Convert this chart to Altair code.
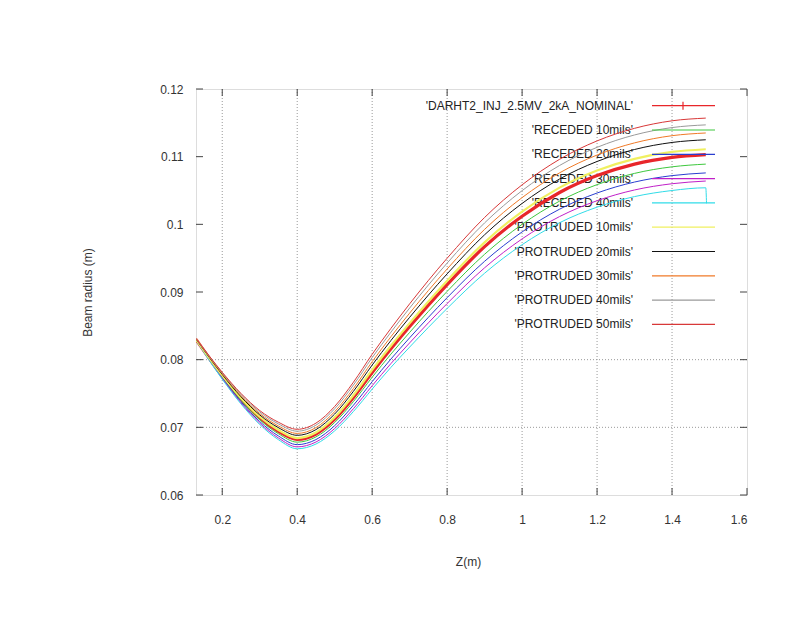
import altair as alt
import pandas as pd

# ---- data ----
Z = [0.13, 0.2, 0.25, 0.3, 0.35, 0.4, 0.45, 0.5, 0.55, 0.6, 0.65, 0.7,
     0.8, 0.9, 1.0, 1.1, 1.2, 1.3, 1.4, 1.49]

NOMINAL = [0.0830, 0.0776, 0.0742, 0.0714, 0.0694, 0.0682, 0.0690, 0.0712, 0.0744, 0.0781,
           0.0816, 0.0849, 0.0911, 0.0967, 0.1012, 0.1047, 0.1072, 0.1089, 0.1099, 0.1103]
RECEDED_10 = [0.08296, 0.07746, 0.07399, 0.07112, 0.06905, 0.06781, 0.06858, 0.07071, 0.07381, 0.0774,
              0.08082, 0.08403, 0.09009, 0.09558, 0.1000, 0.10343, 0.10587, 0.10753, 0.1085, 0.1089]
RECEDED_20 = [0.08292, 0.07733, 0.07379, 0.07086, 0.06872, 0.06744, 0.06819, 0.07025, 0.07327, 0.07675,
              0.08009, 0.08323, 0.08916, 0.09454, 0.09888, 0.10224, 0.10463, 0.10625, 0.1072, 0.1076]
RECEDED_30 = [0.08288, 0.07721, 0.07361, 0.07062, 0.06842, 0.06711, 0.06783, 0.06983, 0.07276, 0.07615,
              0.07942, 0.08248, 0.08829, 0.09358, 0.09785, 0.10115, 0.10349, 0.10508, 0.1060, 0.1064]
RECEDED_40 = [0.08285, 0.07711, 0.07346, 0.07042, 0.06817, 0.06683, 0.06753, 0.06948, 0.07234, 0.07565,
              0.07886, 0.08186, 0.08757, 0.09278, 0.09699, 0.10024, 0.10254, 0.1041, 0.1050, 0.1054]
RECEDED_40_TAIL_Z = [1.492]
RECEDED_40_TAIL = [0.1031]
PROTRUDED_10 = [0.08302, 0.07768, 0.07432, 0.07156, 0.0696, 0.06842, 0.06924, 0.07148, 0.07474, 0.0785,
                0.08205, 0.0854, 0.09168, 0.09734, 0.10189, 0.10543, 0.10796, 0.10968, 0.1107, 0.1111]
PROTRUDED_20 = [0.08307, 0.07782, 0.07453, 0.07184, 0.06995, 0.06882, 0.06966, 0.07197, 0.07532, 0.0792,
                0.08283, 0.08626, 0.09268, 0.09846, 0.10309, 0.1067, 0.10929, 0.11106, 0.1121, 0.1125]
PROTRUDED_30 = [0.0831, 0.07792, 0.07468, 0.07204, 0.0702, 0.0691, 0.06996, 0.07232, 0.07574, 0.0797,
                0.08339, 0.08688, 0.0934, 0.09926, 0.10395, 0.10761, 0.11024, 0.11204, 0.1131, 0.1135]
PROTRUDED_40 = [0.08313, 0.07804, 0.07486, 0.07228, 0.0705, 0.06943, 0.07032, 0.07274, 0.07625, 0.0803,
                0.08406, 0.08763, 0.09427, 0.10022, 0.10498, 0.1087, 0.11138, 0.11321, 0.1143, 0.1147]
PROTRUDED_50 = [0.08316, 0.07814, 0.07501, 0.07248, 0.07075, 0.06971, 0.07062, 0.07309, 0.07667, 0.0808,
                0.08462, 0.08825, 0.09499, 0.10102, 0.10584, 0.10961, 0.11233, 0.11419, 0.1153, 0.1157]

LABELS = ["'DARHT2_INJ_2.5MV_2kA_NOMINAL'", "'RECEDED 10mils'", "'RECEDED 20mils'",
          "'RECEDED 30mils'", "'RECEDED 40mils'", "'PROTRUDED 10mils'", "'PROTRUDED 20mils'",
          "'PROTRUDED 30mils'", "'PROTRUDED 40mils'", "'PROTRUDED 50mils'"]

X_TICKS = [0.2, 0.4, 0.6, 0.8, 1.0, 1.2, 1.4, 1.6]
Y_TICKS = [0.06, 0.07, 0.08, 0.09, 0.10, 0.11, 0.12]
X_GRID = [0.2, 0.4, 0.6, 0.8, 1.0, 1.2, 1.4]
Y_GRID = [0.07, 0.08]

# ---- styles ----
COLORS = ["#e8262a", "#3ec83e", "#2a3ed0", "#c020c8", "#30dce8", "#f0f060",
          "#111111", "#f07a28", "#9a9a9a", "#d83838"]
WIDTHS = [3.2, 1, 1, 1, 1, 2.2, 1, 1, 1, 1]
FONT = "Liberation Sans"
W, H = 551, 406

series = [NOMINAL, RECEDED_10, RECEDED_20, RECEDED_30, RECEDED_40,
          PROTRUDED_10, PROTRUDED_20, PROTRUDED_30, PROTRUDED_40, PROTRUDED_50]
rows = []
for i, (lab, vals) in enumerate(zip(LABELS, series)):
    zs = list(Z)
    vs = list(vals)
    if lab == "'RECEDED 40mils'":
        zs += RECEDED_40_TAIL_Z
        vs += RECEDED_40_TAIL
    for z, v in zip(zs, vs):
        rows.append({"z": z, "r": v, "label": lab, "sw": WIDTHS[i], "k": i})
df = pd.DataFrame(rows)

leg = pd.DataFrame({"label": LABELS, "row": list(range(len(LABELS)))})

xscale = alt.Scale(domain=[0.13, 1.6], nice=False, zero=False)
yscale = alt.Scale(domain=[0.06, 0.12], nice=False, zero=False)
cscale = alt.Scale(domain=LABELS, range=COLORS)

x_axis = alt.Axis(values=X_TICKS, format="~g", ticks=False, tickSize=0, domain=False, grid=False,
                  labelPadding=19, labelFontSize=12, labelFont=FONT, labelColor="#333",
                  title="Z(m)", titleFont=FONT, titleFontSize=12, titleFontWeight="normal",
                  titleColor="#333", titleX=272, titleY=66, titleBaseline="middle")
y_axis = alt.Axis(values=Y_TICKS, format="~g", ticks=False, tickSize=0, domain=False, grid=False,
                  labelPadding=13, labelFontSize=12, labelFont=FONT, labelColor="#333",
                  title="Beam radius (m)", titleFont=FONT, titleFontSize=12,
                  titleFontWeight="normal", titleColor="#333", titleX=-109, titleY=203,
                  titleBaseline="middle")

grid_col = "#9a9a9a"
vgrid = alt.Chart(pd.DataFrame({"g": X_GRID})).mark_rule(
    color=grid_col, strokeDash=[1, 2], strokeWidth=1).encode(
    x=alt.X("g:Q", scale=xscale, axis=x_axis))
hgrid = alt.Chart(pd.DataFrame({"g": Y_GRID})).mark_rule(
    color=grid_col, strokeDash=[1, 2], strokeWidth=1).encode(
    y=alt.Y("g:Q", scale=yscale, axis=y_axis))

tick_col = "#444"
xt = pd.DataFrame({"t": X_TICKS})
yt = pd.DataFrame({"t": Y_TICKS})
tick_bottom = alt.Chart(xt).mark_rule(color=tick_col).encode(
    x=alt.X("t:Q", scale=xscale), y=alt.value(H), y2=alt.value(H - 7))
tick_top = alt.Chart(xt).mark_rule(color=tick_col).encode(
    x=alt.X("t:Q", scale=xscale), y=alt.value(0), y2=alt.value(7))
tick_left = alt.Chart(yt).mark_rule(color=tick_col).encode(
    y=alt.Y("t:Q", scale=yscale), x=alt.value(0), x2=alt.value(7))
tick_right = alt.Chart(yt).mark_rule(color=tick_col).encode(
    y=alt.Y("t:Q", scale=yscale), x=alt.value(W), x2=alt.value(W - 7))

leg_base = alt.Chart(leg).transform_calculate(ly="16.7 + 24.3 * datum.row")
leg_text = leg_base.mark_text(align="right", baseline="middle", font=FONT, fontSize=12,
                              color="#222").encode(
    x=alt.value(437), y=alt.Y("ly:Q", scale=None), text="label:N")
leg_line = leg_base.mark_rule(strokeWidth=1.2).encode(
    x=alt.value(456), x2=alt.value(519), y=alt.Y("ly:Q", scale=None),
    color=alt.Color("label:N", scale=cscale, legend=None))
leg_plus = leg_base.transform_filter("datum.row == 0").transform_calculate(
    ly1="datum.ly - 4", ly2="datum.ly + 4").mark_rule(color=COLORS[0], strokeWidth=1.2).encode(
    x=alt.value(487), y=alt.Y("ly1:Q", scale=None), y2=alt.Y2("ly2:Q"))

lines = alt.Chart(df).mark_line(interpolate="monotone", clip=True).encode(
    x=alt.X("z:Q", scale=xscale),
    y=alt.Y("r:Q", scale=yscale),
    color=alt.Color("label:N", scale=cscale, legend=None),
    strokeWidth=alt.StrokeWidth("sw:Q", scale=None),
    detail="k:N",
)

chart = alt.layer(
    vgrid, hgrid, leg_text, lines, leg_line, leg_plus,
    tick_bottom, tick_top, tick_left, tick_right,
).properties(
    width=W, height=H,
    autosize=alt.AutoSizeParams(type="none"),
    padding={"left": 188, "top": 81, "right": 40, "bottom": 110},
).configure_view(stroke="#444", strokeWidth=1.2).configure(background="white")

chart.save("out.html", embed_options={"renderer": "svg", "actions": False})
